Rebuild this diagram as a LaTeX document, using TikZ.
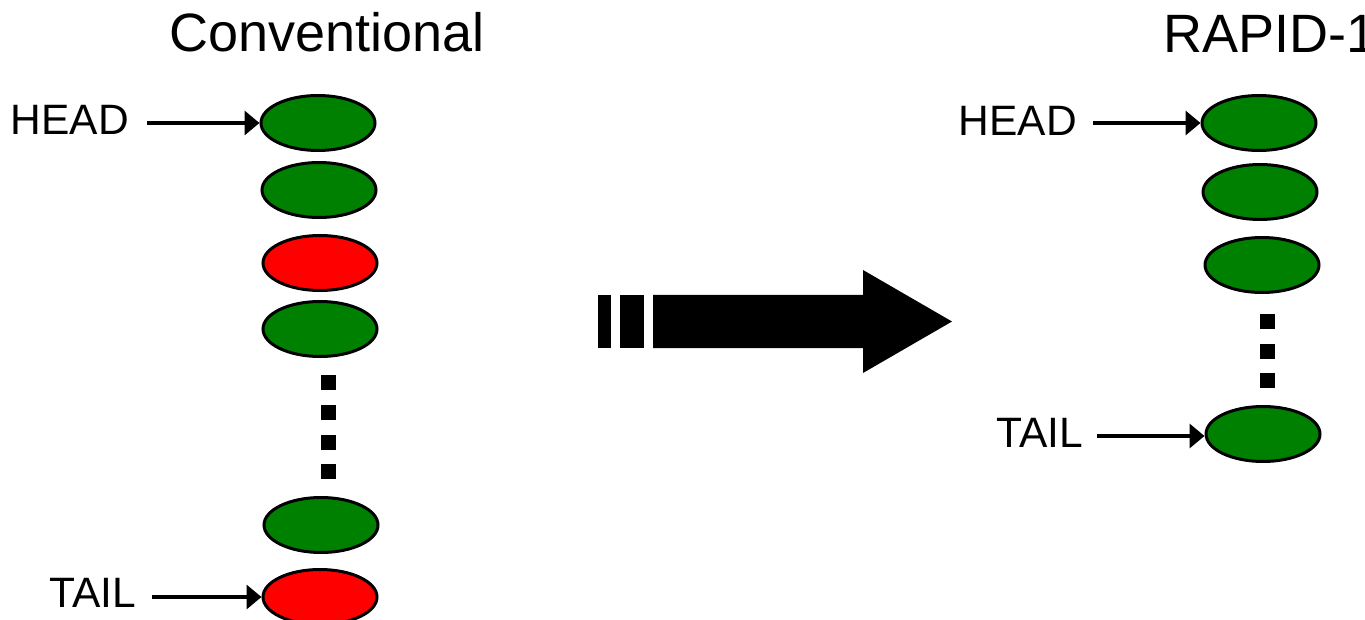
\documentclass[tikz,border=0pt]{standalone}
\usepackage{fontspec}
\setmainfont{Liberation Sans}
\usetikzlibrary{arrows.meta,shapes.geometric}
\definecolor{nodegreen}{RGB}{0,128,0}
\definecolor{nodered}{RGB}{255,0,0}
\begin{document}
\begin{tikzpicture}[x=1pt,y=-1pt,
  item/.style={ellipse,draw=black,line width=3pt,minimum width=114pt,minimum height=55pt,inner sep=0pt},
  gitem/.style={item,fill=nodegreen},
  ritem/.style={item,fill=nodered},
  ptr/.style={line width=3.5pt,-{Triangle[length=15pt,width=24pt]}},
  lbl/.style={font=\fontsize{42.5}{50}\selectfont,anchor=base west,inner sep=0pt},
  ttl/.style={font=\fontsize{54}{62}\selectfont,anchor=base west,inner sep=0pt},
  dotsq/.style={fill=black}]
\useasboundingbox (0,0) rectangle (1365,620);
\clip (0,0) rectangle (1365,620);
% titles
\node[ttl] (t1) at (169,52) {Conventional};
\node[ttl] (t2) at (1163,53) {RAPID-1};
% left column
\node[gitem] (L1) at (318,123) {};
\node[gitem] (L2) at (319,190) {};
\node[ritem] (L3) at (320,263) {};
\node[gitem] (L4) at (320,329) {};
\node[gitem] (L5) at (321,525) {};
\node[ritem] (L6) at (320,597) {};
\foreach \yy in {382,412,442,471}
  \fill[dotsq] (321,\yy-7.5) rectangle (336,\yy+7.5);
% right column
\node[gitem] (R1) at (1259,123) {};
\node[gitem] (R2) at (1260,192) {};
\node[gitem] (R3) at (1262,265) {};
\node[gitem] (R4) at (1263,434) {};
\foreach \yy in {321,351,380.5}
  \fill[dotsq] (1260,\yy-7.5) rectangle (1275,\yy+7.5);
% labels
\node[lbl] (hl) at (10.5,135) {HEAD};
\node[lbl] (tl) at (49,607) {TAIL};
\node[lbl] (hr) at (958.5,136) {HEAD};
\node[lbl] (tr) at (996,447) {TAIL};
% pointers
\coordinate (ph1) at (147,123);
\coordinate (pt1) at (152,597);
\coordinate (ph2) at (1093,123);
\coordinate (pt2) at (1097,436);
\draw[ptr] (ph1) -- (ph1 -| L1.west);
\draw[ptr] (pt1) -- (pt1 -| L6.west);
\draw[ptr] (ph2) -- (ph2 -| R1.west);
\draw[ptr] (pt2) -- (pt2 -| R4.west);
% big striped arrow
\fill (598,295) rectangle (611,348);
\fill (620,295) rectangle (644,348);
\fill (653,295) -- (863,295) -- (863,270) -- (952,321.5) -- (863,373) -- (863,348) -- (653,348) -- cycle;
\end{tikzpicture}
\end{document}
